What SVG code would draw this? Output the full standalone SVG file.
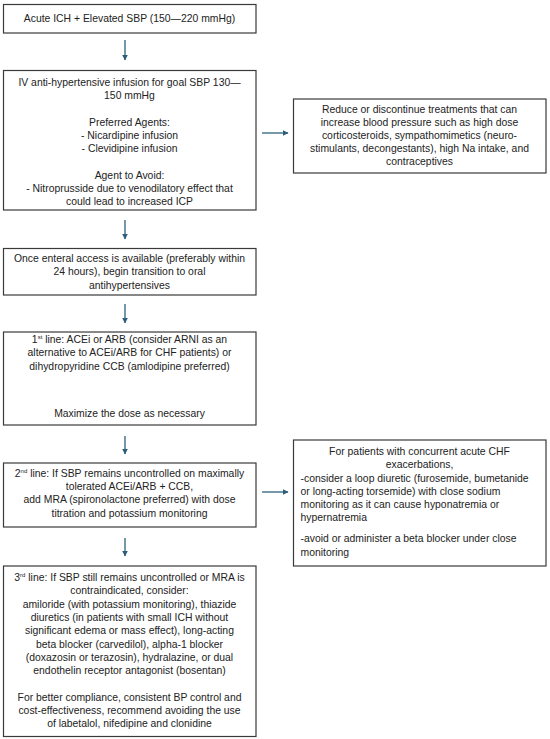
<svg xmlns="http://www.w3.org/2000/svg" width="550" height="739" viewBox="0 0 550 739">
<defs>
<marker id="ah" viewBox="0 0 10 10" refX="9" refY="5" markerWidth="6" markerHeight="6" orient="auto" markerUnits="userSpaceOnUse">
<path d="M0,0 L10,5 L0,10 z" fill="#2d5f7c"/>
</marker>
<style>
.box{fill:#fff;stroke:#3a3a3a;stroke-width:1.2}
text{font-family:"Liberation Sans",Arial,sans-serif;font-size:10.4px;fill:#222}
.c{text-anchor:middle}
.conn{stroke:#2d5f7c;stroke-width:1.3;fill:none;marker-end:url(#ah)}
</style>
</defs>
<rect width="550" height="739" fill="#fff"/>
<g id="connectors">
<line class="conn" x1="125" y1="40" x2="125" y2="60"/>
<line class="conn" x1="125" y1="220" x2="125" y2="239"/>
<line class="conn" x1="125" y1="304" x2="125" y2="323"/>
<line class="conn" x1="125" y1="436" x2="125" y2="454"/>
<line class="conn" x1="125" y1="538" x2="125" y2="556"/>
<line class="conn" x1="262" y1="133" x2="288" y2="133"/>
<line class="conn" x1="262" y1="492" x2="288" y2="492"/>
</g>
<g id="n1">
<rect class="box" x="3.5" y="4.5" width="252.5" height="28.5"/>
<text class="c" x="129.5" y="22">Acute ICH + Elevated SBP (150—220 mmHg)</text>
</g>
<g id="n2">
<rect class="box" x="3.5" y="70.5" width="252.5" height="139.5"/>
<text class="c" x="129.5" y="85.5">IV anti-hypertensive infusion for goal SBP 130—</text>
<text class="c" x="129.5" y="98.5">150 mmHg</text>
<text class="c" x="129.5" y="125.5">Preferred Agents:</text>
<text class="c" x="129.5" y="138.5">- Nicardipine infusion</text>
<text class="c" x="129.5" y="151.5">- Clevidipine infusion</text>
<text class="c" x="129.5" y="178.5">Agent to Avoid:</text>
<text class="c" x="129.5" y="191.5">- Nitroprusside due to venodilatory effect that</text>
<text class="c" x="129.5" y="204.5">could lead to increased ICP</text>
</g>
<g id="n3">
<rect class="box" x="3.5" y="248.5" width="252.5" height="46.5"/>
<text class="c" x="129.5" y="261.5">Once enteral access is available (preferably within</text>
<text class="c" x="129.5" y="275">24 hours), begin transition to oral</text>
<text class="c" x="129.5" y="289">antihypertensives</text>
</g>
<g id="n4">
<rect class="box" x="3.5" y="332" width="252.5" height="93"/>
<text class="c" x="129.5" y="342.5">1<tspan font-size="6" dy="-3.5">st</tspan><tspan dy="3.5"> line: ACEi or ARB (consider ARNI as an</tspan></text>
<text class="c" x="129.5" y="356">alternative to ACEi/ARB for CHF patients) or</text>
<text class="c" x="129.5" y="369.5">dihydropyridine CCB (amlodipine preferred)</text>
<text class="c" x="129.5" y="416.5">Maximize the dose as necessary</text>
</g>
<g id="n5">
<rect class="box" x="3.5" y="463" width="252.5" height="64"/>
<text class="c" x="129.5" y="476.5">2<tspan font-size="6" dy="-3.5">nd</tspan><tspan dy="3.5"> line: If SBP remains uncontrolled on maximally</tspan></text>
<text class="c" x="129.5" y="490">tolerated ACEi/ARB + CCB,</text>
<text class="c" x="129.5" y="503">add MRA (spironolactone preferred) with dose</text>
<text class="c" x="129.5" y="516.5">titration and potassium monitoring</text>
</g>
<g id="n6">
<rect class="box" x="3.5" y="566" width="252.5" height="170.5"/>
<text class="c" x="129.5" y="580.5">3<tspan font-size="6" dy="-3.5">rd</tspan><tspan dy="3.5"> line: If SBP still remains uncontrolled or MRA is</tspan></text>
<text class="c" x="129.5" y="593.5">contraindicated, consider:</text>
<text class="c" x="129.5" y="607.5">amiloride (with potassium monitoring), thiazide</text>
<text class="c" x="129.5" y="620.5">diuretics (in patients with small ICH without</text>
<text class="c" x="129.5" y="634">significant edema or mass effect), long-acting</text>
<text class="c" x="129.5" y="647.5">beta blocker (carvedilol), alpha-1 blocker</text>
<text class="c" x="129.5" y="660.5">(doxazosin or terazosin), hydralazine, or dual</text>
<text class="c" x="129.5" y="673.5">endothelin receptor antagonist (bosentan)</text>
<text class="c" x="129.5" y="700.5">For better compliance, consistent BP control and</text>
<text class="c" x="129.5" y="713.5">cost-effectiveness, recommend avoiding the use</text>
<text class="c" x="129.5" y="726.5">of labetalol, nifedipine and clonidine</text>
</g>
<g id="r1">
<rect class="box" x="293.5" y="99" width="252.5" height="74"/>
<text class="c" x="419.5" y="112.5">Reduce or discontinue treatments that can</text>
<text class="c" x="419.5" y="125.5">increase blood pressure such as high dose</text>
<text class="c" x="419.5" y="138.5">corticosteroids, sympathomimetics (neuro-</text>
<text class="c" x="419.5" y="151.5">stimulants, decongestants), high Na intake, and</text>
<text class="c" x="419.5" y="165">contraceptives</text>
</g>
<g id="r2">
<rect class="box" x="293.5" y="440" width="252.5" height="126"/>
<text class="c" x="419.5" y="454.5">For patients with concurrent acute CHF</text>
<text class="c" x="419.5" y="467.5">exacerbations,</text>
<text x="300.5" y="481.5">-consider a loop diuretic (furosemide, bumetanide</text>
<text x="300.5" y="494.5">or long-acting torsemide) with close sodium</text>
<text x="300.5" y="507.5">monitoring as it can cause hyponatremia or</text>
<text x="300.5" y="521">hypernatremia</text>
<text x="300.5" y="541.5">-avoid or administer a beta blocker under close</text>
<text x="300.5" y="556">monitoring</text>
</g>
</svg>
